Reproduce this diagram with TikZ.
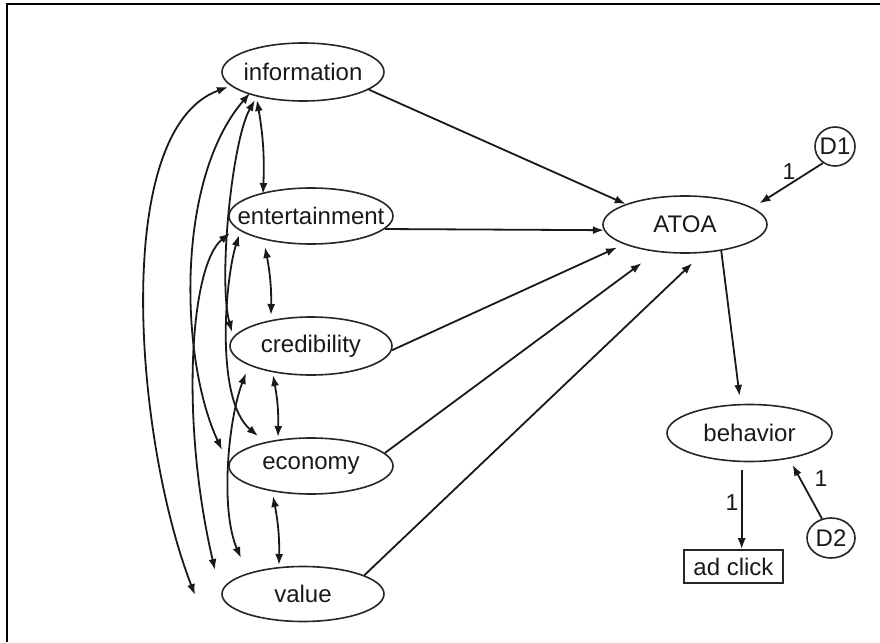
\documentclass[tikz,border=0pt]{standalone}
\usepackage{fontspec}
\setmainfont{Liberation Sans}
\usetikzlibrary{arrows.meta,shapes.geometric}

% zero-width text so the ellipse keeps its given size
\newcommand\ctext[1]{\makebox[0pt]{#1}}

\begin{document}
\begin{tikzpicture}[x=1pt,y=-1pt,
  line width=1.8pt,
  var/.style={ellipse, draw=black!85, line width=1.6pt, inner sep=0pt,
    font=\fontsize{24}{28}\selectfont, text=black!90},
  obs/.style={rectangle, draw=black!85, line width=1.6pt, inner sep=0pt,
    font=\fontsize{24}{28}\selectfont, text=black!90},
  lab/.style={font=\fontsize{23}{27}\selectfont, inner sep=0pt, text=black!90},
  tip/.style={draw=black!90, -{Latex[length=11pt,width=8pt]}},
  cov/.style={draw=black!90, {Latex[length=11pt,width=8pt]}-{Latex[length=11pt,width=8pt]}},
]
\useasboundingbox (0,0) rectangle (880,642);
% frame
\draw[line width=2.2pt] (7,642) -- (7,4.3) -- (880,4.3);

% latent variables
\node[var, minimum width=162pt, minimum height=58pt] (info) at (303,72) {\ctext{information}};
\node[var, minimum width=164pt, minimum height=56pt] (ent)  at (311,216) {\ctext{entertainment}};
\node[var, minimum width=162pt, minimum height=58pt] (cred) at (311,346) {\ctext{credibility}};
\node[var, minimum width=164pt, minimum height=56pt] (econ) at (311,466) {\ctext{economy}};
\node[var, minimum width=162pt, minimum height=55pt] (value) at (303,594) {\ctext{value}};
\node[var, minimum width=164pt, minimum height=57pt] (atoa) at (685,224.5) {\ctext{ATOA}};
\node[var, minimum width=165pt, minimum height=57pt] (beh)  at (749.5,433) {\ctext{behavior}};
\node[var, minimum width=40pt, minimum height=39pt] (d1) at (835,146.5) {\ctext{D1}};
\node[var, minimum width=48pt, minimum height=40pt] (d2) at (831,538) {\ctext{D2}};
\node[obs, minimum width=99pt, minimum height=33pt] (click) at (733.5,566.5) {\ctext{ad click}};

% paths into ATOA
\draw[tip] (info.-15) -- (atoa.161);
\draw[tip] (ent.-10) -- (atoa.184);
\draw[tip, shorten >=7.7pt] (cred.-3) -- (atoa.198);
\draw[tip, shorten >=18.5pt] (econ.10) -- (atoa.224);
\draw[tip, shorten >=14.6pt] (value.17) -- (atoa.302.6);
\draw[tip, shorten >=8pt] (d1.234) -- (atoa.14);
\node[lab] (l1) at (789,172) {1};

% ATOA to behavior to ad click
\draw[tip, shorten >=8pt] (atoa.324) -- (beh.107);
\draw[tip, shorten <=8pt] (beh.255) -- (beh.255 |- click.north);
\node[lab] (l2) at (732,503) {1};
\draw[tip, shorten >=7pt] (d2.115) -- (beh.327.5);
\node[lab] (l3) at (821,479) {1};

% covariances between neighbours
\draw[cov] ([shift={(-46,28)}]info.center) to[bend left=6] ([shift={(-48,-22)}]ent.center);
\draw[cov] ([shift={(-46,31)}]ent.center) to[bend left=6] ([shift={(-40,-31)}]cred.center);
\draw[cov] ([shift={(-38,29)}]cred.center) to[bend left=6] ([shift={(-33,-29)}]econ.center);
\draw[cov] ([shift={(-38,30)}]econ.center) to[bend left=6] ([shift={(-24,-29)}]value.center);

% covariances along the left side
\draw[cov] ([shift={(-75,15)}]info.center) .. controls (110,130) and (135,440) .. ([shift={(-108,1)}]value.center);
\draw[cov] ([shift={(-53,21)}]info.center) .. controls (175,180) and (180,360) .. ([shift={(-89,-16)}]econ.center);
\draw[cov] ([shift={(-48,28)}]info.center) .. controls (232,140) and (218,280) .. ([shift={(-79,-14)}]cred.center);
\draw[cov] ([shift={(-72,19)}]ent.center) .. controls (225,280) and (215,400) .. ([shift={(-53,-30)}]econ.center);
\draw[cov] ([shift={(-81,17)}]ent.center) .. controls (190,265) and (180,420) .. ([shift={(-88,-24)}]value.center);
\draw[cov] ([shift={(-65,27)}]cred.center) .. controls (228,420) and (220,510) .. ([shift={(-62,-36)}]value.center);
\end{tikzpicture}
\end{document}
